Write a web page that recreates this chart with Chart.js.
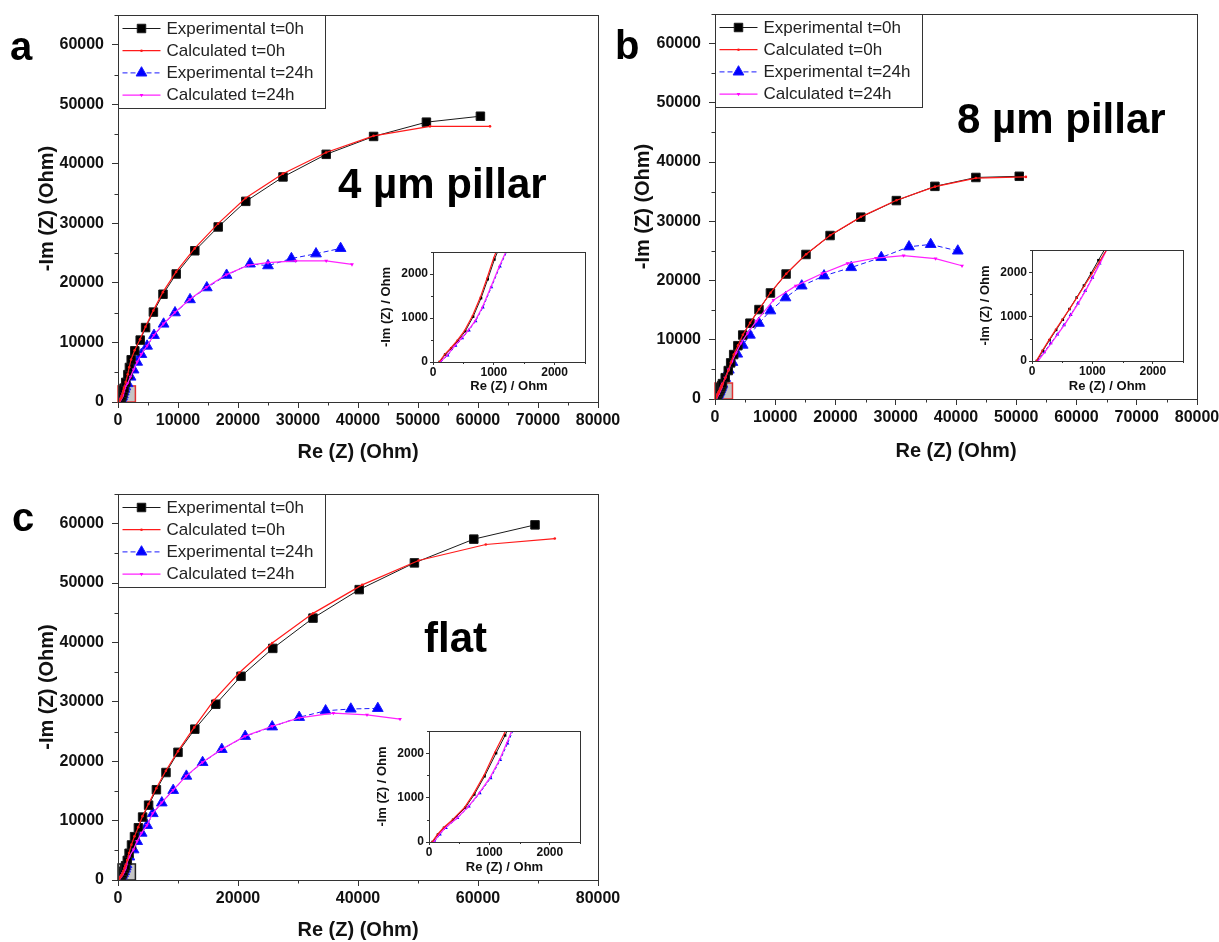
<!DOCTYPE html>
<html>
<head>
<meta charset="utf-8">
<script src="https://cdn.jsdelivr.net/npm/chart.js@4.4.1/dist/chart.umd.min.js"></script>
<style>
  body { margin: 0; background: #fff; width: 1219px; height: 942px; overflow: hidden; position: relative; }
  canvas { position: absolute; }
</style>
</head>
<body>
<canvas id="mainA" width="625" height="470" style="left:0;top:0"></canvas>
<canvas id="mainB" width="622" height="470" style="left:597px;top:0"></canvas>
<canvas id="mainC" width="625" height="472" style="left:0;top:470px"></canvas>
<canvas id="insetA" width="220" height="160" style="left:375px;top:240px"></canvas>
<canvas id="insetB" width="220" height="160" style="left:974px;top:238px"></canvas>
<canvas id="insetC" width="220" height="160" style="left:371px;top:719px"></canvas>
<script>
const FONT = "'Liberation Sans', Arial, sans-serif";

// series names (legend)
const seriesNames = ['Experimental t=0h', 'Calculated t=0h', 'Experimental t=24h', 'Calculated t=24h'];

// data points as [Re(Z), -Im(Z)] in Ohm
// panel a - 4 um pillar
const aExp0 = [[110,0],[200,170],[300,310],[410,480],[530,700],[660,1030],[790,1450],[900,1880],[1010,2330],[1300,3300],[1650,4600],[1900,5800],[2200,7100],[2800,8600],[3700,10400],[4600,12500],[5900,15100],[7500,18100],[9700,21500],[12800,25400],[16700,29400],[21300,33700],[27500,37800],[34700,41600],[42600,44600],[51400,47000],[60400,48000]];
const aCalc0 = [[100,0],[190,170],[290,315],[400,490],[520,715],[650,1050],[780,1475],[890,1910],[1000,2370],[1280,3350],[1620,4650],[1880,5850],[2180,7150],[2780,8700],[3680,10550],[4580,12650],[5880,15350],[7480,18450],[9680,21850],[12780,25800],[16680,29950],[21280,34250],[27480,38350],[34680,41900],[42600,44700],[52000,46300],[62000,46300]];
const aExp24 = [[130,0],[240,150],[370,370],[480,540],[590,720],[700,930],[820,1240],[960,1700],[1100,2170],[1230,2560],[1600,3100],[2100,4200],[2600,5400],[3200,6700],[3900,8000],[4850,9400],[6000,11200],[7600,13100],[9500,15000],[12000,17200],[14800,19200],[18100,21300],[22000,23200],[25000,22900],[28900,24100],[33000,24900],[37100,25800]];
const aCalc24 = [[120,0],[230,150],[360,370],[470,540],[580,720],[690,930],[810,1240],[950,1700],[1090,2170],[1220,2570],[1590,3120],[2090,4230],[2590,5430],[3190,6730],[3890,8030],[4840,9450],[5990,11250],[7590,13150],[9490,15050],[11990,17250],[14790,19300],[18090,21400],[21800,23000],[25000,23400],[29600,23700],[34700,23700],[39000,23100]];

// panel b - 8 um pillar
const bExp0 = [[80,0],[180,230],[290,470],[400,700],[510,930],[620,1170],[740,1430],[860,1700],[980,1980],[1100,2270],[1240,2600],[1700,3600],[2200,4800],[2600,6100],[3100,7500],[3800,9000],[4600,10800],[5800,12800],[7300,15100],[9200,17900],[11800,21100],[15100,24400],[19100,27600],[24200,30700],[30100,33500],[36500,35900],[43300,37400],[50500,37600]];
const bCalc0 = [[70,0],[170,230],[280,470],[390,700],[500,930],[620,1170],[740,1420],[870,1700],[1000,1980],[1130,2270],[1270,2580],[1720,3600],[2220,4800],[2620,6100],[3120,7500],[3820,9050],[4620,10850],[5820,12850],[7320,15150],[9220,17950],[11820,21150],[15120,24450],[19120,27650],[24220,30750],[30120,33550],[36520,35850],[43300,37300],[51600,37500]];
const bExp24 = [[90,0],[200,200],[310,400],[420,600],[530,810],[640,1040],[760,1300],[880,1580],[1000,1880],[1120,2200],[1230,2520],[1700,3500],[2300,4900],[2900,6200],[3700,7600],[4600,9100],[5800,10800],[7300,12800],[9200,14900],[11700,17100],[14400,19100],[18100,20800],[22600,22200],[27600,23900],[32200,25700],[35800,26100],[40300,25000]];
const bCalc24 = [[100,0],[210,200],[320,400],[430,610],[540,820],[650,1050],[770,1310],[890,1590],[1010,1890],[1130,2210],[1250,2540],[1680,3550],[2250,4950],[2800,6300],[3500,7800],[4300,9400],[5400,11100],[6900,13200],[9700,16700],[13400,19100],[17800,21200],[22000,22900],[26700,23800],[31300,24200],[36600,23700],[41000,22500]];

// panel c - flat
const cExp0 = [[60,0],[150,170],[250,320],[400,500],[600,770],[750,1070],[920,1480],[1110,2000],[1260,2400],[1550,3300],[1850,4500],[2250,5900],[2750,7300],[3400,8800],[4100,10600],[5100,12600],[6400,15200],[8000,18100],[10000,21500],[12800,25400],[16300,29600],[20500,34300],[25800,39000],[32500,44100],[40200,48900],[49400,53400],[59300,57400],[69500,59800]];
const cCalc0 = [[50,0],[140,170],[240,320],[390,505],[590,780],[740,1090],[910,1500],[1090,2020],[1250,2450],[1540,3350],[1840,4550],[2240,5950],[2740,7350],[3380,8900],[4080,10750],[5080,12800],[6380,15450],[7980,18400],[10000,21700],[12700,25700],[16000,30300],[20200,34900],[25700,39900],[32500,44900],[40700,49700],[50100,53800],[61300,56500],[72800,57500]];
const cExp24 = [[90,0],[180,170],[280,320],[470,540],[660,800],[840,1100],[1020,1440],[1180,1850],[1300,2220],[1420,2600],[1900,3900],[2600,5100],[3200,6500],[3950,7900],[4850,9200],[5800,11200],[7300,13000],[9200,15100],[11400,17500],[14100,19800],[17300,22000],[21200,24200],[25700,25800],[30200,27400],[34600,28500],[38800,28800],[43300,28900]];
const cCalc24 = [[80,0],[170,170],[270,320],[460,535],[650,795],[830,1100],[1010,1450],[1170,1860],[1290,2240],[1400,2600],[1880,3920],[2580,5130],[3180,6530],[3930,7930],[4830,9230],[5780,11230],[7280,13030],[9180,15130],[11380,17530],[14080,19830],[17280,22030],[21180,24230],[25700,25900],[30200,27300],[35900,28100],[41500,27800],[47000,27100]];

// tick values
const reTicksAB = [0, 10000, 20000, 30000, 40000, 50000, 60000, 70000, 80000];
const reMinorAB = [5000, 15000, 25000, 35000, 45000, 55000, 65000, 75000];
const reTicksC = [0, 20000, 40000, 60000, 80000];
const reMinorC = [10000, 30000, 50000, 70000];
const imTicks = [0, 10000, 20000, 30000, 40000, 50000, 60000];
const imMinor = [5000, 15000, 25000, 35000, 45000, 55000, 65000];
const insetTicks = [0, 1000, 2000];
const insetMinor = [500, 1500, 2500];

// region shown in the insets (marked near the origin of each main plot)
const zoomRe = [0, 2900];
const zoomIm = [0, 2700];

// box, minor ticks, zoom marker and text labels
const framePlugin = {
  id: 'frame',
  beforeDraw(chart, args, o) {
    if (!o.fill) return;
    const {ctx, chartArea: a} = chart;
    ctx.save();
    ctx.fillStyle = '#fff';
    ctx.fillRect(a.left, a.top, a.right - a.left, a.bottom - a.top);
    ctx.restore();
  },
  beforeDatasetsDraw(chart, args, o) {
    if (!o.zoomBox) return;
    const {ctx, scales: {x, y}} = chart;
    const x0 = x.getPixelForValue(zoomRe[0]), x1 = x.getPixelForValue(zoomRe[1]);
    const y0 = y.getPixelForValue(zoomIm[0]), y1 = y.getPixelForValue(zoomIm[1]);
    ctx.save();
    ctx.fillStyle = 'rgba(150,150,150,0.55)';
    ctx.fillRect(x0, y1, x1 - x0, y0 - y1);
    ctx.strokeStyle = o.zoomBox;
    ctx.lineWidth = 1.5;
    ctx.strokeRect(x0, y1, x1 - x0, y0 - y1);
    ctx.restore();
  },
  afterDraw(chart, args, o) {
    const {ctx, chartArea: a, scales: {x, y}} = chart;
    ctx.save();
    ctx.strokeStyle = '#333';
    ctx.lineWidth = 1;
    ctx.strokeRect(Math.round(a.left) + 0.5, Math.round(a.top) + 0.5,
      Math.round(a.right - a.left), Math.round(a.bottom - a.top));
    ctx.beginPath();
    (o.minorX || []).forEach(v => {
      const px = Math.round(x.getPixelForValue(v)) + 0.5;
      ctx.moveTo(px, a.bottom);
      ctx.lineTo(px, a.bottom + o.minorLen);
    });
    (o.minorY || []).forEach(v => {
      const py = Math.round(y.getPixelForValue(v)) + 0.5;
      ctx.moveTo(a.left - o.minorLen, py);
      ctx.lineTo(a.left, py);
    });
    ctx.stroke();
    ctx.fillStyle = '#000';
    ctx.textBaseline = 'alphabetic';
    ctx.textAlign = 'left';
    (o.notes || []).forEach(n => {
      ctx.font = 'bold ' + n.size + 'px ' + FONT;
      ctx.fillText(n.text, n.x, n.y);
    });
    ctx.restore();
  }
};

// legend in a box at the top left of the plot, line + marker + name
const boxLegend = {
  id: 'boxLegend',
  afterDraw(chart, args, o) {
    if (!o.show) return;
    const {ctx, chartArea: a} = chart;
    const left = Math.round(a.left) + 0.5, top = Math.round(a.top) + 0.5;
    ctx.save();
    ctx.fillStyle = '#fff';
    ctx.fillRect(left, top, 207, 93);
    ctx.strokeStyle = '#333';
    ctx.lineWidth = 1;
    ctx.strokeRect(left, top, 207, 93);
    chart.data.datasets.forEach((ds, i) => {
      const cy = top + 13 + i * 22.2;
      ctx.strokeStyle = ds.borderColor;
      ctx.lineWidth = ds.borderWidth;
      ctx.setLineDash(ds.borderDash || []);
      ctx.beginPath();
      ctx.moveTo(left + 4, cy);
      ctx.lineTo(left + 42, cy);
      ctx.stroke();
      ctx.setLineDash([]);
      ctx.fillStyle = ds.backgroundColor;
      ctx.lineWidth = 1;
      Chart.helpers.drawPoint(ctx, {
        pointStyle: ds.pointStyle, rotation: ds.pointRotation || 0,
        radius: ds.pointRadius, borderWidth: ds.pointBorderWidth
      }, left + 23, cy);
      ctx.fillStyle = '#222';
      ctx.font = '17px ' + FONT;
      ctx.textBaseline = 'middle';
      ctx.fillText(ds.label, left + 48, cy + 0.5);
    });
    ctx.restore();
  }
};

function buildDatasets(series, small) {
  const xy = arr => arr.map(([re, im]) => ({x: re, y: im}));
  return [
    {label: seriesNames[0], data: xy(series[0]), showLine: true, order: 2,
     borderColor: '#1a1a1a', backgroundColor: '#000', borderWidth: 1,
     pointStyle: 'rect', pointRadius: small ? 1.8 : 6, pointBorderWidth: small ? 0 : 1},
    {label: seriesNames[1], data: xy(series[1]), showLine: true, order: 1,
     borderColor: '#ff1a1a', backgroundColor: '#ff1a1a', borderWidth: 1.2,
     pointStyle: 'circle', pointRadius: small ? 0.8 : 1.3, pointBorderWidth: 0},
    {label: seriesNames[2], data: xy(series[2]), showLine: true, order: 2,
     borderColor: '#1a1aff', backgroundColor: '#0000ff', borderWidth: 1, borderDash: small ? [3, 2] : [5, 3],
     pointStyle: 'triangle', pointRadius: small ? 2.2 : 6.2, pointBorderWidth: small ? 0 : 1},
    {label: seriesNames[3], data: xy(series[3]), showLine: true, order: 1,
     borderColor: '#ff22ff', backgroundColor: '#ff00ff', borderWidth: 1.2,
     pointStyle: 'triangle', pointRotation: 180, pointRadius: small ? 1.3 : 2.2, pointBorderWidth: 0}
  ];
}

function axis(o) {
  return {
    type: 'linear', min: o.min, max: o.max,
    afterBuildTicks: s => { s.ticks = o.ticks.map(v => ({value: v})); },
    afterFit: s => {
      if (o.horizontal) { s.height = o.size; s.paddingLeft = 0; s.paddingRight = 0; }
      else { s.width = o.size; s.paddingTop = 0; s.paddingBottom = 0; }
    },
    ticks: {
      callback: v => String(v), autoSkip: false, maxRotation: 0, padding: o.tickPad,
      color: '#111', font: {family: FONT, size: o.tickSize, weight: 'bold'}
    },
    grid: {drawOnChartArea: false, tickLength: o.tickLen, color: '#333'},
    border: {color: '#333'},
    title: {
      display: true, text: o.title, color: '#111',
      font: {family: FONT, size: o.titleSize, weight: 'bold'},
      padding: {top: o.titlePad, bottom: o.titlePad}
    }
  };
}

function mainChart(id, series, p) {
  return new Chart(document.getElementById(id), {
    type: 'scatter',
    data: {datasets: buildDatasets(series, false)},
    options: {
      responsive: false, animation: false, events: [],
      layout: {padding: {left: 0, top: p.top, right: p.right, bottom: 0}},
      scales: {
        x: axis({horizontal: true, min: 0, max: 80000, ticks: p.reTicks, size: p.xH, tickPad: 3, tickLen: 6,
                 tickSize: 16, title: 'Re (Z) (Ohm)', titleSize: 20, titlePad: p.xTitlePad}),
        y: axis({horizontal: false, min: 0, max: 65000, ticks: imTicks, size: 118, tickPad: 8, tickLen: 6,
                 tickSize: 16, title: '-Im (Z) (Ohm)', titleSize: 20, titlePad: p.yTitlePad})
      },
      plugins: {
        legend: {display: false},
        tooltip: {enabled: false},
        frame: {minorX: p.reMinor, minorY: imMinor, minorLen: 3.5, zoomBox: p.zoomColor, notes: p.notes},
        boxLegend: {show: true}
      }
    },
    plugins: [framePlugin, boxLegend]
  });
}

function insetChart(id, series, p) {
  return new Chart(document.getElementById(id), {
    type: 'scatter',
    data: {datasets: buildDatasets(series, true)},
    options: {
      responsive: false, animation: false, events: [],
      layout: {padding: {left: 0, top: 12, right: p.right, bottom: 0}},
      scales: {
        x: axis({horizontal: true, min: 0, max: 2500, ticks: insetTicks, size: p.xH, tickPad: 0, tickLen: 3,
                 tickSize: 12, title: 'Re (Z) / Ohm', titleSize: 13, titlePad: p.xTitlePad}),
        y: axis({horizontal: false, min: 0, max: 2500, ticks: insetTicks, size: 58, tickPad: 2, tickLen: 3,
                 tickSize: 12, title: '-Im (Z) / Ohm', titleSize: 13, titlePad: 4})
      },
      plugins: {
        legend: {display: false},
        tooltip: {enabled: false},
        frame: {fill: true, minorX: insetMinor, minorY: insetMinor, minorLen: 2},
        boxLegend: {show: false}
      }
    },
    plugins: [framePlugin, boxLegend]
  });
}

mainChart('mainA', [aExp0, aCalc0, aExp24, aCalc24], {
  top: 15, right: 27, xH: 68, xTitlePad: 6, yTitlePad: 35.5, reTicks: reTicksAB, reMinor: reMinorAB,
  zoomColor: '#e03030',
  notes: [{text: 'a', x: 10, y: 60, size: 40}, {text: '4 µm pillar', x: 338, y: 198, size: 42}]
});
mainChart('mainB', [bExp0, bCalc0, bExp24, bCalc24], {
  top: 14, right: 22, xH: 71, xTitlePad: 7, yTitlePad: 34, reTicks: reTicksAB, reMinor: reMinorAB,
  zoomColor: '#e03030',
  notes: [{text: 'b', x: 18, y: 59, size: 40}, {text: '8 µm pillar', x: 360, y: 133, size: 42}]
});
mainChart('mainC', [cExp0, cCalc0, cExp24, cCalc24], {
  top: 24, right: 27, xH: 62, xTitlePad: 0, yTitlePad: 35.5, reTicks: reTicksC, reMinor: reMinorC,
  zoomColor: '#222',
  notes: [{text: 'c', x: 12, y: 61, size: 40}, {text: 'flat', x: 424, y: 182, size: 42}]
});
insetChart('insetA', [aExp0, aCalc0, aExp24, aCalc24], {right: 10, xH: 38, xTitlePad: 5.5});
insetChart('insetB', [bExp0, bCalc0, bExp24, bCalc24], {right: 11, xH: 37, xTitlePad: 3.5});
insetChart('insetC', [cExp0, cCalc0, cExp24, cCalc24], {right: 11, xH: 37, xTitlePad: 3.7});
</script>
</body>
</html>
